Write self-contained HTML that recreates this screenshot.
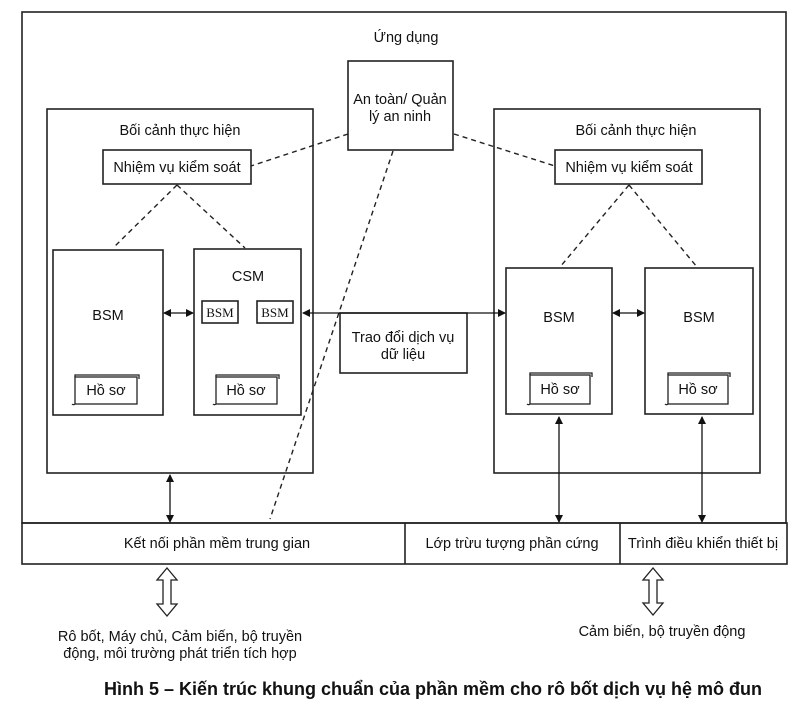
<!DOCTYPE html>
<html><head><meta charset="utf-8"><style>
html,body{margin:0;padding:0;background:#fff;}
svg{display:block;}
text{font-family:"Liberation Sans",Arial,sans-serif;fill:#111;}
</style></head><body>
<svg width="812" height="707" viewBox="0 0 812 707" xmlns="http://www.w3.org/2000/svg">
<defs>
<marker id="ah" markerWidth="8" markerHeight="8" refX="7" refY="4" orient="auto-start-reverse" markerUnits="userSpaceOnUse">
<path d="M0,0 L8,4 L0,8 Z" fill="#111"/></marker>
</defs>
<g fill="none" stroke="#222" stroke-width="1.6">
<rect x="22" y="12" width="764" height="511"/>
<rect x="22" y="523" width="765" height="41"/>
<line x1="405" y1="523" x2="405" y2="564"/>
<line x1="620" y1="523" x2="620" y2="564"/>
<rect x="47" y="109" width="266" height="364"/>
<rect x="494" y="109" width="266" height="364"/>
<rect x="103" y="150" width="148" height="34"/>
<rect x="555" y="150" width="147" height="34"/>
<rect x="348" y="61" width="105" height="89"/>
<rect x="53" y="250" width="110" height="165"/>
<rect x="194" y="249" width="107" height="166"/>
<rect x="202" y="301" width="36" height="22"/>
<rect x="257" y="301" width="36" height="22"/>
<rect x="506" y="268" width="106" height="146"/>
<rect x="645" y="268" width="108" height="146"/>
<rect x="340" y="313" width="127" height="60"/>
<g stroke-width="1.3">
<rect x="75" y="377" width="62" height="27"/><path d="M75,377 v-2 h64 v4 M75,404 a2,2 0 0 1 -3,0"/>
<rect x="216" y="377" width="61" height="27"/><path d="M216,377 v-2 h63 v4 M216,404 a2,2 0 0 1 -3,0"/>
<rect x="530" y="375" width="60" height="29"/><path d="M530,375 v-2 h62 v4 M530,404 a2,2 0 0 1 -3,0"/>
<rect x="668" y="375" width="60" height="29"/><path d="M668,375 v-2 h62 v4 M668,404 a2,2 0 0 1 -3,0"/>
</g>
</g>
<g fill="none" stroke="#222" stroke-width="1.4" stroke-dasharray="5,4">
<line x1="348" y1="134" x2="251" y2="166"/>
<line x1="454" y1="134" x2="555" y2="166"/>
<line x1="393" y1="151" x2="270" y2="519"/>
<line x1="177" y1="185" x2="113" y2="248"/>
<line x1="177" y1="185" x2="245" y2="248"/>
<line x1="629" y1="185" x2="560" y2="267"/>
<line x1="629" y1="185" x2="697" y2="267"/>
</g>
<g stroke="#111" stroke-width="1.3" fill="none">
<line x1="164" y1="313" x2="193" y2="313" marker-start="url(#ah)" marker-end="url(#ah)"/>
<line x1="303" y1="313" x2="505" y2="313" marker-start="url(#ah)" marker-end="url(#ah)"/>
<line x1="613" y1="313" x2="644" y2="313" marker-start="url(#ah)" marker-end="url(#ah)"/>
<line x1="170" y1="475" x2="170" y2="522" marker-start="url(#ah)" marker-end="url(#ah)"/>
<line x1="559" y1="417" x2="559" y2="522" marker-start="url(#ah)" marker-end="url(#ah)"/>
<line x1="702" y1="417" x2="702" y2="522" marker-start="url(#ah)" marker-end="url(#ah)"/>
</g>
<g fill="#fff" stroke="#222" stroke-width="1.3">
<path d="M167,568 L177,580 L171,580 L171,604 L177,604 L167,616 L157,604 L163,604 L163,580 L157,580 Z"/>
<path d="M653,568 L663,580 L657,580 L657,603 L663,603 L653,615 L643,603 L649,603 L649,580 L643,580 Z"/>
</g>
<g font-size="14.5" text-anchor="middle">
<text x="406" y="42">Ứng dụng</text>
<text x="400" y="104">An toàn/ Quản</text>
<text x="400" y="121">lý an ninh</text>
<text x="180" y="135">Bối cảnh thực hiện</text>
<text x="636" y="135">Bối cảnh thực hiện</text>
<text x="177" y="172">Nhiệm vụ kiểm soát</text>
<text x="629" y="172">Nhiệm vụ kiểm soát</text>
<text x="108" y="320">BSM</text>
<text x="248" y="281">CSM</text>
<text x="559" y="322">BSM</text>
<text x="699" y="322">BSM</text>
<text x="403" y="342">Trao đổi dịch vụ</text>
<text x="403" y="359">dữ liệu</text>
<text x="106" y="395">Hồ sơ</text>
<text x="246" y="395">Hồ sơ</text>
<text x="560" y="394">Hồ sơ</text>
<text x="698" y="394">Hồ sơ</text>
<text x="217" y="548">Kết nối phần mềm trung gian</text>
<text x="512" y="548">Lớp trừu tượng phần cứng</text>
<text x="703" y="548">Trình điều khiển thiết bị</text>
<text x="180" y="641">Rô bốt, Máy chủ, Cảm biến, bộ truyền</text>
<text x="180" y="658">động, môi trường phát triển tích hợp</text>
<text x="662" y="636">Cảm biến, bộ truyền động</text>
</g>
<g font-size="13" text-anchor="middle">
<text x="220" y="317" style="font-family:'Liberation Serif',serif">BSM</text>
<text x="275" y="317" style="font-family:'Liberation Serif',serif">BSM</text>
</g>
<text x="433" y="695" font-size="18" font-weight="bold" text-anchor="middle">Hình 5 – Kiến trúc khung chuẩn của phần mềm cho rô bốt dịch vụ hệ mô đun</text>
</svg>
</body></html>
